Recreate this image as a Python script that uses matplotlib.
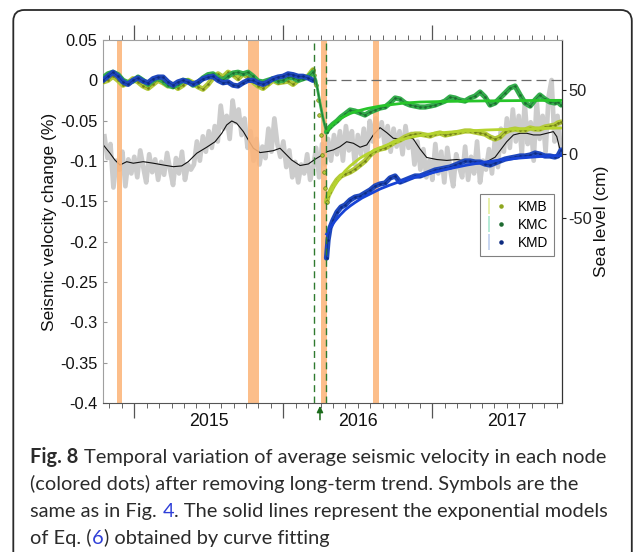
import numpy as np
import matplotlib
matplotlib.use("Agg")
import matplotlib.pyplot as plt
from matplotlib.lines import Line2D
from matplotlib.legend_handler import HandlerTuple
from matplotlib.patches import FancyBboxPatch

W, H, DPI = 633, 552, 100
plt.rcParams['font.family'] = ['Liberation Sans', 'DejaVu Sans']

# ---------------- data (decimal years, velocity change in %, sea level in cm) -------------
pre_years = [2014.790, 2014.823, 2014.857, 2014.891, 2014.924, 2014.958, 2014.991, 2015.025,
             2015.058, 2015.092, 2015.126, 2015.159, 2015.193, 2015.226, 2015.260, 2015.293,
             2015.327, 2015.360, 2015.394, 2015.427, 2015.461, 2015.495, 2015.528, 2015.562,
             2015.595, 2015.629, 2015.662, 2015.696, 2015.730, 2015.763, 2015.797, 2015.830,
             2015.864, 2015.897, 2015.931, 2015.964, 2015.998, 2016.032, 2016.065, 2016.099,
             2016.132, 2016.166, 2016.199]
kmb_pre = [-0.002, 0.000, 0.005, 0.000, -0.006, -0.003, 0.002, -0.002, -0.007, -0.010, -0.005,
           0.000, -0.003, -0.007, -0.005, -0.010, -0.006, 0.000, -0.003, -0.008, -0.011, -0.005,
           0.003, 0.008, 0.004, 0.010, 0.007, 0.002, 0.008, 0.004, -0.002, -0.007, -0.010,
           -0.005, 0.000, -0.003, -0.002, -0.001, -0.005, 0.000, 0.003, 0.005, 0.013]
kmc_pre = [0.003, 0.008, 0.010, 0.007, 0.000, -0.003, -0.001, 0.004, 0.000, -0.005, 0.000,
           0.003, -0.001, -0.006, -0.008, -0.005, 0.000, -0.001, -0.006, -0.003, 0.003, 0.007,
           0.008, 0.003, 0.000, 0.005, 0.009, 0.010, 0.008, 0.010, 0.005, -0.001, -0.002,
           0.000, 0.002, -0.001, 0.000, 0.004, 0.003, 0.000, 0.002, 0.004, 0.010]
kmd_pre = [0.000, 0.005, 0.010, 0.005, -0.002, -0.005, 0.000, 0.003, -0.001, -0.003, 0.002,
           0.004, 0.004, -0.002, -0.006, -0.002, 0.000, -0.002, -0.005, -0.002, 0.002, 0.004,
           0.005, 0.000, -0.003, -0.002, -0.006, -0.007, -0.003, 0.000, 0.000, -0.003, -0.005,
           -0.002, 0.002, 0.004, 0.005, 0.008, 0.007, 0.005, 0.005, 0.003, 0.000]

kmb_drop_years = [2016.199, 2016.209, 2016.219, 2016.230, 2016.240, 2016.250, 2016.260,
                  2016.270, 2016.280, 2016.290]
kmb_drop = [0.013, 0.0066, -0.0058, -0.0244, -0.0430, -0.0678, -0.0926, -0.1137, -0.1335, -0.1509]
kmc_drop_years = [2016.199, 2016.219, 2016.246, 2016.266, 2016.290]
kmc_drop = [0.010, 0.000, -0.0281, -0.0467, -0.0641]

post_years = [2016.290, 2016.300, 2016.313, 2016.334, 2016.360, 2016.387, 2016.414, 2016.448,
              2016.481, 2016.515, 2016.548, 2016.582, 2016.615, 2016.649, 2016.683, 2016.716,
              2016.750, 2016.783, 2016.817, 2016.850, 2016.884, 2016.917, 2016.951, 2016.985,
              2017.018, 2017.052, 2017.085, 2017.119, 2017.152, 2017.186, 2017.219, 2017.253,
              2017.287, 2017.320, 2017.354, 2017.387, 2017.421, 2017.454, 2017.488, 2017.521,
              2017.555, 2017.589, 2017.622, 2017.656, 2017.689, 2017.721, 2017.755, 2017.789,
              2017.822, 2017.842, 2017.864]
kmb_post = [-0.1509, -0.1434, -0.1385, -0.1310, -0.1236, -0.1186, -0.1162, -0.1137, -0.1100,
            -0.1050, -0.1000, -0.0926, -0.0876, -0.0852, -0.0839, -0.0802, -0.0765, -0.0740,
            -0.0703, -0.0678, -0.0666, -0.0666, -0.0678, -0.0690, -0.0666, -0.0653, -0.0678,
            -0.0666, -0.0653, -0.0641, -0.0628, -0.0628, -0.0641, -0.0653, -0.0666, -0.0703,
            -0.0728, -0.0703, -0.0641, -0.0616, -0.0604, -0.0616, -0.0616, -0.0591, -0.0604,
            -0.0604, -0.0579, -0.0567, -0.0554, -0.0529, -0.0517]
kmc_post = [-0.0641, -0.0604, -0.0579, -0.0542, -0.0505, -0.0455, -0.0418, -0.0368, -0.0381,
            -0.0405, -0.0430, -0.0393, -0.0368, -0.0343, -0.0331, -0.0281, -0.0219, -0.0232,
            -0.0281, -0.0306, -0.0319, -0.0331, -0.0331, -0.0319, -0.0306, -0.0281, -0.0257,
            -0.0207, -0.0219, -0.0244, -0.0257, -0.0219, -0.0195, -0.0145, -0.0207, -0.0306,
            -0.0281, -0.0219, -0.0157, -0.0095, -0.0071, -0.0182, -0.0281, -0.0319, -0.0244,
            -0.0182, -0.0232, -0.0269, -0.0281, -0.0269, -0.0306]
kmd_post = [-0.2203, -0.1980, -0.1831, -0.1732, -0.1633, -0.1571, -0.1546, -0.1484, -0.1447,
            -0.1434, -0.1397, -0.1360, -0.1310, -0.1285, -0.1273, -0.1211, -0.1186, -0.1261,
            -0.1236, -0.1211, -0.1186, -0.1186, -0.1162, -0.1137, -0.1112, -0.1100, -0.1087,
            -0.1075, -0.1050, -0.1025, -0.1000, -0.1000, -0.1013, -0.1013, -0.1038, -0.1050,
            -0.1025, -0.1000, -0.0976, -0.0963, -0.0951, -0.0938, -0.0938, -0.0926, -0.0901,
            -0.0914, -0.0938, -0.0938, -0.0951, -0.0938, -0.0864]

fit_kmb_years = [2016.290, 2016.313, 2016.347, 2016.381, 2016.414, 2016.448, 2016.481, 2016.515,
                 2016.562, 2016.615, 2016.669, 2016.730, 2016.783, 2016.850, 2016.917, 2017.005,
                 2017.119, 2017.233, 2017.354, 2017.454, 2017.589, 2017.721, 2017.868]
fit_kmb = [-0.1459, -0.1385, -0.1285, -0.1199, -0.1124, -0.1062, -0.1013, -0.0963, -0.0914,
           -0.0864, -0.0821, -0.0777, -0.0740, -0.0709, -0.0684, -0.0659, -0.0641, -0.0628,
           -0.0616, -0.0610, -0.0604, -0.0597, -0.0591]
fit_kmc_years = [2016.290, 2016.313, 2016.347, 2016.381, 2016.414, 2016.448, 2016.495, 2016.562,
                 2016.649, 2016.730, 2016.817, 2016.917, 2017.052, 2017.253, 2017.454, 2017.656,
                 2017.868]
fit_kmc = [-0.0628, -0.0579, -0.0517, -0.0474, -0.0443, -0.0412, -0.0381, -0.0350, -0.0319,
           -0.0300, -0.0281, -0.0269, -0.0263, -0.0257, -0.0253, -0.0250, -0.0248]
fit_kmd_years = [2016.290, 2016.313, 2016.347, 2016.381, 2016.414, 2016.448, 2016.481, 2016.528,
                 2016.582, 2016.649, 2016.716, 2016.783, 2016.850, 2016.917, 2017.005, 2017.119,
                 2017.233, 2017.354, 2017.454, 2017.589, 2017.721, 2017.868]
fit_kmd = [-0.1905, -0.1831, -0.1744, -0.1670, -0.1608, -0.1558, -0.1515, -0.1459, -0.1409,
           -0.1347, -0.1298, -0.1254, -0.1217, -0.1186, -0.1143, -0.1093, -0.1050, -0.1013,
           -0.0988, -0.0963, -0.0945, -0.0932]

sea_smooth_years = [2014.792, 2014.837, 2014.870, 2014.904, 2014.949, 2014.993, 2015.060, 2015.128,
                    2015.195, 2015.262, 2015.318, 2015.362, 2015.419, 2015.486, 2015.542, 2015.587,
                    2015.620, 2015.654, 2015.687, 2015.732, 2015.765, 2015.799, 2015.844, 2015.889,
                    2015.933, 2015.978, 2016.011, 2016.056, 2016.112, 2016.168, 2016.213, 2016.246,
                    2016.291, 2016.336, 2016.380, 2016.425, 2016.470, 2016.515, 2016.560, 2016.604,
                    2016.649, 2016.694, 2016.738, 2016.783, 2016.828, 2016.872, 2016.917, 2016.962,
                    2017.029, 2017.097, 2017.164, 2017.231, 2017.298, 2017.365, 2017.421, 2017.466,
                    2017.499, 2017.544, 2017.589, 2017.634, 2017.678, 2017.723, 2017.768, 2017.812,
                    2017.835, 2017.857, 2017.868]
sea_smooth = [7.3, 0.8, -4.5, -8.4, -5.8, -7.0, -5.8, -7.0, -8.4, -9.7, -9.1, -5.8, 0.8, 5.5,
              9.8, 16.4, 22.9, 26.0, 24.2, 17.7, 11.2, 4.7, 1.3, 2.0, 2.8, 4.7, 0.8, -4.5, -8.8,
              -7.6, -3.9, -1.6, 2.0, 3.4, 5.9, 9.8, 8.6, 5.5, 7.3, 15.1, 20.8, 16.9, 12.5, 12.0,
              13.8, 12.0, 4.1, -2.5, -4.1, -4.8, -4.1, -5.2, -6.4, -5.8, -2.3, 4.7, 9.8, 15.1,
              16.4, 16.4, 15.1, 15.1, 16.4, 17.7, 13.8, 3.4, 1.8]

sea_raw_start, sea_raw_step = 2014.80, 0.02
sea_raw = [14, -3, 8, -26, -5, -12, 2, -25, -4, -15,
           -2, -18, 3, -10, -22, 0, -14, -4, -20, -6,
           -16, 1, -12, -24, -3, -15, 2, -20, -8, -12,
           -8, 10, -5, 14, 2, 18, 5, 22, 10, 38,
           20, 30, 12, 42, 25, 35, 15, 28, 5, 18,
           -5, 12, -8, 6, -3, 20, 2, 28, 8, -2,
           10, -10, 3, -18, -6, -22, -8, -15, 0, -20,
           -10, 5, -18, 8, -8, 12, -5, 15, 0, 18,
           -5, 22, 3, 18, -8, 15, 0, 20, -3, 26,
           10, 28, 14, 25, 8, 22, 2, 20, 6, 18,
           0, 22, 5, 16, -8, 10, -12, 4, -18, -5,
           -20, 8, -15, 2, -22, 5, -12, -25, 0, -10,
           -18, 6, -20, -2, -15, 10, -22, -5, -12, 4,
           -15, 12, -10, 20, 2, 28, 5, 35, 10, 30,
           0, 40, 8, 25, -5, 42, 12, 30, 2, 45,
           58, 10, 30, 5]

event_periods = [(2014.881, 2014.915), (2015.766, 2015.840), (2016.251, 2016.290), (2016.605, 2016.644)]
dashed_years = [2016.207, 2016.289]
quake_year = 2016.246

vel_ticks = [0.05, 0, -0.05, -0.1, -0.15, -0.2, -0.25, -0.3, -0.35, -0.4]
vel_ticklabels = ['0.05', '0', '-0.05', '-0.1', '-0.15', '-0.2', '-0.25', '-0.3', '-0.35', '-0.4']
sea_ticks = [-50, 0, 50]
sea_ticklabels = ['-50', '0', '50']
year_ticks = [2015, 2016, 2017]
year_labels = ['2015', '2016', '2017']
series_names = ['KMB', 'KMC', 'KMD']

# ---------------- styling -------------
BAND = {'KMB': '#b3c93a', 'KMC': '#34ad4c', 'KMD': '#1f48bd'}
DOT = {'KMB': '#6f7d16', 'KMC': '#1d6a30', 'KMD': '#0d2a80'}
FIT = {'KMB': '#b6d42f', 'KMC': '#27c52a', 'KMD': '#1743d6'}
LIGHT = {'KMB': '#e4ee9c', 'KMC': '#a9e8cf', 'KMD': '#bfd0ef'}
ORANGE = '#fcb57a'
XMIN, XMAX = 2014.792, 2017.868

fig = plt.figure(figsize=(W / DPI, H / DPI), dpi=DPI)
fig.patch.set_facecolor('white')

# rounded figure frame (journal style)
frame = FancyBboxPatch((0.133, -0.6), 6.185, 6.02,
                       boxstyle="round,pad=0,rounding_size=0.11",
                       transform=fig.dpi_scale_trans, fill=False,
                       edgecolor='#2a2a2a', linewidth=1.3)
fig.patches.append(frame)

ax_l, ax_r, ax_t, ax_b = 103.3, 561.7, 40.0, 403.0
ax = fig.add_axes([ax_l / W, 1 - ax_b / H, (ax_r - ax_l) / W, (ax_b - ax_t) / H])
ax_sea = ax.twinx()
ax.set_zorder(ax_sea.get_zorder() + 1)
ax.patch.set_visible(False)
ax_sea.patch.set_visible(True)
ax_sea.patch.set_facecolor('white')

# --- sea level (right axis) ---
sea_raw_years = sea_raw_start + sea_raw_step * np.arange(len(sea_raw))
ax_sea.plot(sea_raw_years, sea_raw, color='#c4c4c4', lw=3.4, alpha=0.85,
            solid_joinstyle='round', zorder=1)
ax_sea.plot(sea_smooth_years, sea_smooth, color='#111111', lw=0.8, zorder=2)
for a, b in event_periods:
    ax_sea.axvspan(a, b, color=ORANGE, alpha=0.88, lw=0, zorder=3)
ax_sea.set_ylim(-194.4, 89.3)
ax_sea.set_yticks(sea_ticks, sea_ticklabels)
ax_sea.tick_params(axis='y', direction='out', length=3.0, width=0.8, pad=2.0,
                   labelsize=11.8, colors='#222222')
ax_sea.set_ylabel('Sea level (cm)', fontsize=12.5, rotation=90, color='#111111')
ax_sea.yaxis.set_label_coords(1.071, 0.5)
for s in ['left', 'top', 'bottom']:
    ax_sea.spines[s].set_visible(False)
ax_sea.spines['right'].set_color('#333333')
ax_sea.spines['right'].set_linewidth(0.9)

# --- velocity (left axis) ---
data = {
    'KMB': (kmb_pre, kmb_post),
    'KMC': (kmc_pre, kmc_post),
    'KMD': (kmd_pre, kmd_post),
}
for k, name in enumerate(series_names):
    pre, post = data[name]
    z = 4 + k * 0.2
    for xs, ys in ((pre_years, pre), (post_years, post)):
        ax.plot(xs, ys, color=BAND[name], lw=3.8, solid_joinstyle='round',
                solid_capstyle='round', zorder=z)
        ax.plot(xs, ys, color=DOT[name], lw=0.5, alpha=0.8, marker='.', ms=2.0, zorder=z + 0.05)
    if name == 'KMC':
        ax.plot(kmc_drop_years, kmc_drop, color=BAND[name], lw=2.0, zorder=z)
        ax.plot(kmc_drop_years, kmc_drop, color=DOT[name], lw=0.5, zorder=z + 0.05)
    if name == 'KMB':
        ax.plot(kmb_drop_years, kmb_drop, ls='none', marker='o', ms=2.6,
                mfc=BAND[name], mec=DOT[name], mew=0.5, zorder=z + 0.05)

for name, xs, ys in (('KMB', fit_kmb_years, fit_kmb), ('KMC', fit_kmc_years, fit_kmc),
                     ('KMD', fit_kmd_years, fit_kmd)):
    ax.plot(xs, ys, color=FIT[name], lw=2.0, zorder=6)

for xv in dashed_years:
    ax.axvline(xv, color='#2f7a2f', lw=1.0, dashes=(5, 3.2), zorder=7)
ax.plot([dashed_years[1], XMAX], [0, 0], color='#6a6a6a', lw=0.9, dashes=(8, 4), zorder=7)

ax.set_xlim(XMIN, XMAX)
ax.set_ylim(-0.4, 0.05)
ax.set_yticks(vel_ticks, vel_ticklabels)
ax.tick_params(axis='y', direction='in', length=3.0, width=0.8, pad=4.3,
               labelsize=11.8, colors='#999999', labelcolor='#111111')
ax.set_ylabel('Seismic velocity change (%)', fontsize=12.5, color='#111111')
ax.yaxis.set_label_coords(-0.102, 0.5)

months = [2014 + m / 12 for m in range(0, 48) if m % 12 != 0 and XMIN < 2014 + m / 12 < XMAX]
ax.set_xticks(year_ticks, ['', '', ''])
ax.set_xticks(months, minor=True)
ax.tick_params(axis='x', which='major', direction='out', length=11, width=0.9,
               top=True, bottom=True, colors='#555555')
ax.tick_params(axis='x', which='minor', direction='out', length=3.5, width=0.7,
               top=True, bottom=True, colors='#666666')
sec = ax.secondary_xaxis('bottom')
sec.set_xticks([y + 0.5 for y in year_ticks], year_labels)
sec.tick_params(axis='x', length=0, pad=7.0, labelsize=12.8, labelcolor='#111111')
sec.spines['bottom'].set_visible(False)

ax.spines['left'].set_color('#a0a0a0')
ax.spines['top'].set_color('#a0a0a0')
ax.spines['bottom'].set_color('#555555')
ax.spines['right'].set_visible(False)
for s in ['left', 'top', 'bottom']:
    ax.spines[s].set_linewidth(0.8)

# earthquake arrow below the axis
ax.annotate('', xy=(quake_year, -0.008), xycoords=('data', 'axes fraction'),
            xytext=(quake_year, -0.046), textcoords=('data', 'axes fraction'),
            arrowprops=dict(arrowstyle='-|>', color='#1b6b1b', lw=1.1, mutation_scale=9,
                            shrinkA=0, shrinkB=0),
            annotation_clip=False)

# legend
handles = [(Line2D([], [], ls='none', marker='|', ms=11, mew=1.2, color=LIGHT[n]),
            Line2D([], [], ls='none', marker='.', ms=4.5, color=DOT[n] if n != 'KMB' else '#8ea61e'))
           for n in series_names]
leg = ax.legend(handles, series_names, handler_map={tuple: HandlerTuple(ndivide=None)},
                loc='upper right', bbox_to_anchor=(0.983, 0.576), fontsize=9.8,
                frameon=True, fancybox=False, framealpha=1, edgecolor='#808080',
                handlelength=1.3, handletextpad=1.0, borderpad=0.45, labelspacing=0.3,
                borderaxespad=0.0)
leg.get_frame().set_linewidth(0.8)
leg.set_zorder(10)

# ---------------- caption -------------
TXT = '#2b2b2b'
LINK = '#2f3fd8'
caption = [
    [("Fig. 8 ", TXT, 'bold'), ("Temporal variation of average seismic velocity in each node", TXT, 'normal')],
    [("(colored dots) after removing long-term trend. Symbols are the", TXT, 'normal')],
    [("same as in Fig. ", TXT, 'normal'), ("4", LINK, 'normal'),
     (". The solid lines represent the exponential models", TXT, 'normal')],
    [("of Eq. (", TXT, 'normal'), ("6", LINK, 'normal'), (") obtained by curve fitting", TXT, 'normal')],
]
baselines = [463.3, 490.3, 517.2, 544.1]
cap_x0 = 30.5
target_w = 578.0
CAP_FONT = ['Lato', 'DejaVu Sans']

renderer = fig.canvas.get_renderer()


def piece_width(s, size, weight):
    t = fig.text(0, 0, '|' + s + '|', fontsize=size, fontweight=weight, family=CAP_FONT)
    t2 = fig.text(0, 0, '||', fontsize=size, fontweight=weight, family=CAP_FONT)
    w = t.get_window_extent(renderer).width - t2.get_window_extent(renderer).width
    t.remove()
    t2.remove()
    return w


base_size = 14.0
w_line1 = sum(piece_width(s, base_size, wt) for s, c, wt in caption[0])
cap_size = base_size * target_w / w_line1

for pieces, yb in zip(caption, baselines):
    x = cap_x0
    for s, col, wt in pieces:
        fig.text(x / W, 1 - yb / H, s, color=col, fontsize=cap_size, fontweight=wt,
                 family=CAP_FONT, ha='left', va='baseline')
        x += piece_width(s, cap_size, wt)

fig.savefig('out.png', dpi=DPI, facecolor='white')
